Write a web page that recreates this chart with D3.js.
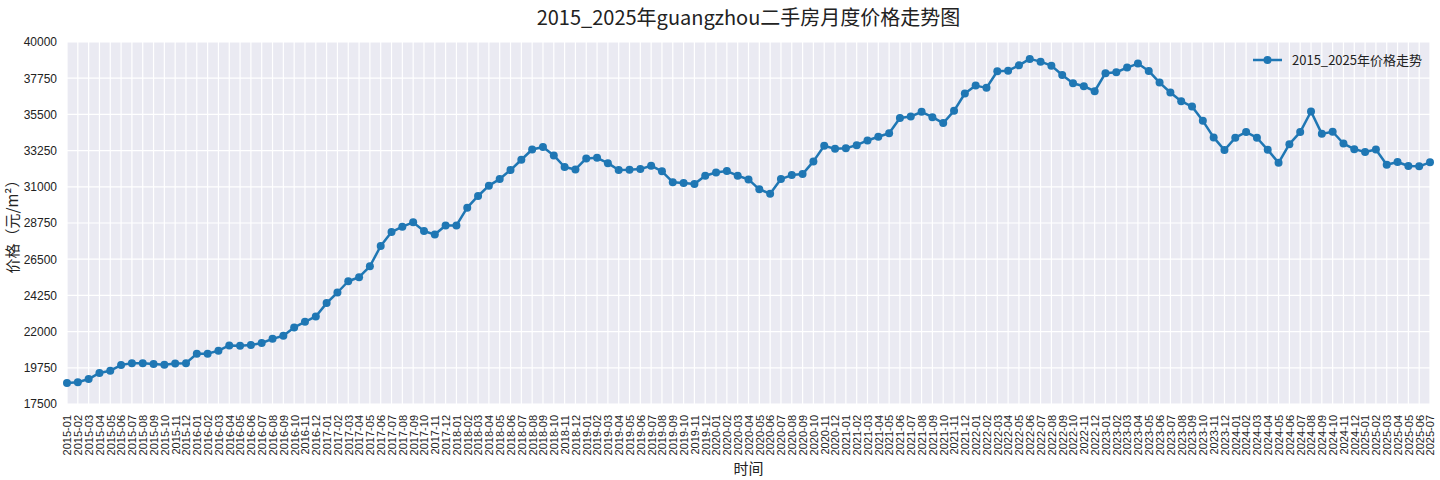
<!DOCTYPE html>
<html>
<head>
<meta charset="utf-8">
<script src="https://cdn.jsdelivr.net/npm/d3@7"></script>
<style>
  html, body { margin: 0; padding: 0; background: #fff; overflow: hidden; }
  svg { display: block; }
</style>
</head>
<body>
<script>
// years covered by the chart, months are built from these
const years = [2015, 2016, 2017, 2018, 2019, 2020, 2021, 2022, 2023, 2024, 2025];
const lastMonthOf2025 = 7;

// monthly price
const prices = [
  // 2015
  18800, 18850, 19050, 19430, 19570, 19920, 20040, 20030, 19990, 19940, 20020, 20040,
  // 2016
  20620, 20630, 20810, 21140, 21120, 21160, 21290, 21550, 21740, 22260, 22610, 22940,
  // 2017
  23770, 24430, 25130, 25380, 26060, 27320, 28190, 28520, 28790, 28250, 28030, 28590,
  // 2018
  28600, 29700, 30430, 31070, 31480, 32040, 32680, 33320, 33470, 32950, 32230, 32080,
  // 2019
  32760, 32800, 32470, 32040, 32060, 32100, 32310, 31960, 31290, 31230, 31170, 31690,
  // 2020
  31890, 31980, 31690, 31460, 30840, 30570, 31480, 31730, 31790, 32580, 33550, 33360,
  // 2021
  33400, 33590, 33880, 34110, 34330, 35270, 35370, 35660, 35330, 34960, 35720, 36800,
  // 2022
  37290, 37150, 38180, 38220, 38550, 38950, 38780, 38530, 37950, 37440, 37250, 36940,
  // 2023
  38060, 38120, 38410, 38660, 38200, 37480, 36860, 36320, 35990, 35100, 34070, 33280,
  // 2024
  34050, 34400, 34050, 33300, 32490, 33650, 34400, 35680, 34290, 34420, 33690, 33340,
  // 2025
  33160, 33320, 32370, 32540, 32290, 32270, 32520
];

const yTicks = [17500, 19750, 22000, 24250, 26500, 28750, 31000, 33250, 35500, 37750, 40000];

const titleText = '2015_2025年guangzhou二手房月度价格走势图';
const seriesName = '2015_2025年价格走势';
const xLabel = '时间';
const yLabel = '价格（元/m²）';

// month labels like 2015-01
let months = [];
years.forEach(y => {
  let n = (y === 2025) ? lastMonthOf2025 : 12;
  for (let m = 1; m <= n; m++) {
    months.push(y + '-' + String(m).padStart(2, '0'));
  }
});

const data = months.map((m, i) => ({ month: m, price: prices[i] }));

const w = 1440;
const h = 480;
const margin = { top: 42, right: 10, bottom: 76, left: 67 };
const innerWidth = w - margin.left - margin.right;
const innerHeight = h - margin.top - margin.bottom;

const tickFont = '"Liberation Sans", Arial, sans-serif';
const cjkFont = '"Noto Sans CJK SC", "Liberation Sans", sans-serif';
const blue = '#1f77b4';

const svg = d3.select('body')
  .append('svg')
  .attr('width', w)
  .attr('height', h);

const xScale = d3.scalePoint()
  .domain(months)
  .range([0, innerWidth]);

const yScale = d3.scaleLinear()
  .domain([17500, 40000])
  .range([innerHeight, 0]);

const g = svg.append('g')
  .attr('transform', `translate(${margin.left},${margin.top})`);

// plot background
g.append('rect')
  .attr('width', innerWidth)
  .attr('height', innerHeight)
  .attr('fill', '#eaeaf2');

// grid lines
g.append('g')
  .selectAll('line')
  .data(months)
  .enter()
  .append('line')
  .attr('x1', d => xScale(d))
  .attr('x2', d => xScale(d))
  .attr('y1', 0)
  .attr('y2', innerHeight)
  .attr('stroke', '#fff')
  .attr('stroke-width', 1.2);

g.append('g')
  .selectAll('line')
  .data(yTicks)
  .enter()
  .append('line')
  .attr('x1', 0)
  .attr('x2', innerWidth)
  .attr('y1', d => yScale(d))
  .attr('y2', d => yScale(d))
  .attr('stroke', '#fff')
  .attr('stroke-width', 1.2);

// axes
const yAxisG = g.append('g')
  .call(d3.axisLeft(yScale).tickValues(yTicks).tickFormat(d3.format('d')).tickSize(0).tickPadding(10));
yAxisG.select('.domain').remove();
yAxisG.attr('font-family', tickFont);
yAxisG.selectAll('text')
  .style('font-family', tickFont)
  .style('font-size', '12px')
  .attr('fill', '#222');

const xAxisG = g.append('g')
  .attr('transform', `translate(0, ${innerHeight})`)
  .call(d3.axisBottom(xScale).tickSize(0));
xAxisG.select('.domain').remove();
xAxisG.attr('font-family', tickFont);
xAxisG.selectAll('text')
  .style('font-family', tickFont)
  .style('font-size', '11px')
  .attr('fill', '#222')
  .attr('text-anchor', 'end')
  .attr('dy', '0.35em')
  .attr('transform', 'translate(0, 11) rotate(-90)')
  .attr('x', 0)
  .attr('y', 0);

// line + markers
const line = d3.line()
  .x(d => xScale(d.month))
  .y(d => yScale(d.price));

g.append('path')
  .datum(data)
  .attr('d', line)
  .attr('fill', 'none')
  .attr('stroke', blue)
  .attr('stroke-width', 2.5)
  .attr('stroke-linejoin', 'round');

g.selectAll('circle.pt')
  .data(data)
  .enter()
  .append('circle')
  .attr('class', 'pt')
  .attr('cx', d => xScale(d.month))
  .attr('cy', d => yScale(d.price))
  .attr('r', 4)
  .attr('fill', blue);

// legend
const legend = svg.append('g')
  .attr('transform', 'translate(1253, 60)');
legend.append('line')
  .attr('x1', 0).attr('x2', 29)
  .attr('y1', 0).attr('y2', 0)
  .attr('stroke', blue)
  .attr('stroke-width', 2.5);
legend.append('circle')
  .attr('cx', 14.5).attr('cy', 0).attr('r', 4)
  .attr('fill', blue);
legend.append('text')
  .attr('x', 39)
  .attr('y', 0)
  .attr('dy', '0.35em')
  .style('font-family', cjkFont)
  .style('font-size', '13px')
  .attr('fill', '#222')
  .text(seriesName);

// title and axis labels
svg.append('text')
  .attr('x', margin.left + innerWidth / 2)
  .attr('y', 25)
  .attr('text-anchor', 'middle')
  .style('font-family', cjkFont)
  .style('font-size', '20px')
  .attr('fill', '#222')
  .text(titleText);

svg.append('text')
  .attr('x', margin.left + innerWidth / 2)
  .attr('y', 474)
  .attr('text-anchor', 'middle')
  .style('font-family', cjkFont)
  .style('font-size', '15px')
  .attr('fill', '#222')
  .text(xLabel);

svg.append('text')
  .attr('transform', `translate(18, ${margin.top + innerHeight / 2}) rotate(-90)`)
  .attr('text-anchor', 'middle')
  .style('font-family', cjkFont)
  .style('font-size', '15px')
  .attr('fill', '#222')
  .text(yLabel);
</script>
</body>
</html>
